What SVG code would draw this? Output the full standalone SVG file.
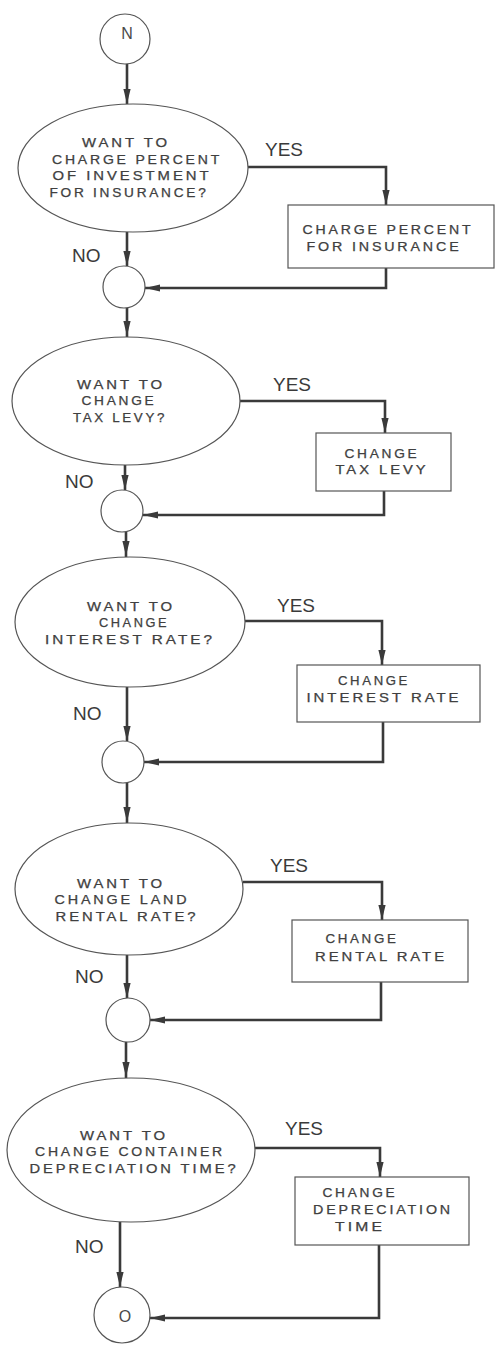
<svg xmlns="http://www.w3.org/2000/svg" xmlns:xlink="http://www.w3.org/1999/xlink" width="495" height="1346" viewBox="0 0 495 1346">
  <style>
    .bg { fill: #ffffff; }
    .shape { fill: #ffffff; stroke: #555555; stroke-width: 1.2; }
    .flow { fill: none; stroke: #3a3a3a; stroke-width: 2.6; }
    .head { fill: #3a3a3a; }
    .lbl { font-family: "Liberation Sans", Arial, sans-serif; font-size: 12px; letter-spacing: 2.4px; fill: #404040; stroke: #404040; stroke-width: 0.25; text-anchor: middle; }
    .yn { font-family: "Liberation Sans", Arial, sans-serif; font-size: 19px; fill: #3a3a3a; }
    .sym { font-family: "Liberation Sans", Arial, sans-serif; font-size: 16px; fill: #4a4a4a; text-anchor: middle; }
  </style>
  <defs>
    <!-- narrow filled arrowhead, tip at the origin, pointing down -->
    <path id="ah" d="M0,0 L-3.6,-15 L3.6,-15 Z" class="head"/>
  </defs>
  <rect class="bg" x="0" y="0" width="495" height="1346"/>

  <!-- connectors -->
  <g id="connectors">
    <!-- main spine -->
    <path class="flow" d="M127,64 V104"/>
    <path class="flow" d="M127,232 V266"/>
    <path class="flow" d="M127,308 V337"/>
    <path class="flow" d="M125,465 V490"/>
    <path class="flow" d="M126,532 V557"/>
    <path class="flow" d="M127,687 V741"/>
    <path class="flow" d="M127,783 V823"/>
    <path class="flow" d="M127,955 V998"/>
    <path class="flow" d="M126,1042 V1078"/>
    <path class="flow" d="M120,1222 V1287"/>
    <!-- YES branches -->
    <path class="flow" d="M248,167 H386 V205"/>
    <path class="flow" d="M240,401 H385 V433"/>
    <path class="flow" d="M245,621 H382 V665"/>
    <path class="flow" d="M243,882 H382 V920"/>
    <path class="flow" d="M255,1148 H380 V1177"/>
    <!-- returns to the junctions -->
    <path class="flow" d="M386,268 V288 H145"/>
    <path class="flow" d="M384,491 V515 H143"/>
    <path class="flow" d="M383,722 V762 H144"/>
    <path class="flow" d="M381,982 V1020 H150"/>
    <path class="flow" d="M379,1245 V1318 H150"/>
    <!-- arrowheads -->
    <use xlink:href="#ah" transform="translate(127,104)"/>
    <use xlink:href="#ah" transform="translate(127,266)"/>
    <use xlink:href="#ah" transform="translate(127,336)"/>
    <use xlink:href="#ah" transform="translate(125,490)"/>
    <use xlink:href="#ah" transform="translate(126,556)"/>
    <use xlink:href="#ah" transform="translate(127,741)"/>
    <use xlink:href="#ah" transform="translate(127,822)"/>
    <use xlink:href="#ah" transform="translate(127,998)"/>
    <use xlink:href="#ah" transform="translate(126,1077)"/>
    <use xlink:href="#ah" transform="translate(120,1287)"/>
    <use xlink:href="#ah" transform="translate(386,205)"/>
    <use xlink:href="#ah" transform="translate(385,433)"/>
    <use xlink:href="#ah" transform="translate(382,665)"/>
    <use xlink:href="#ah" transform="translate(382,920)"/>
    <use xlink:href="#ah" transform="translate(380,1177)"/>
    <use xlink:href="#ah" transform="translate(145,288) rotate(90)"/>
    <use xlink:href="#ah" transform="translate(143,515) rotate(90)"/>
    <use xlink:href="#ah" transform="translate(144,762) rotate(90)"/>
    <use xlink:href="#ah" transform="translate(150,1020) rotate(90)"/>
    <use xlink:href="#ah" transform="translate(150,1318) rotate(90)"/>
    <!-- branch labels -->
    <text class="yn" x="265" y="156">YES</text>
    <text class="yn" x="72" y="262">NO</text>
    <text class="yn" x="273" y="391">YES</text>
    <text class="yn" x="65" y="488">NO</text>
    <text class="yn" x="277" y="612">YES</text>
    <text class="yn" x="73" y="720">NO</text>
    <text class="yn" x="270" y="872">YES</text>
    <text class="yn" x="75" y="983">NO</text>
    <text class="yn" x="285" y="1135">YES</text>
    <text class="yn" x="75" y="1253">NO</text>
  </g>

  <!-- entry connector N -->
  <g id="start">
    <circle class="shape" cx="125" cy="39" r="25"/>
    <text class="sym" x="127" y="39">N</text>
  </g>

  <!-- insurance -->
  <g id="q-insurance">
    <ellipse class="shape" cx="133" cy="168" rx="115" ry="64"/>
    <text class="lbl" x="126" y="147" textLength="88" lengthAdjust="spacingAndGlyphs">WANT TO</text>
    <text class="lbl" x="137" y="164" textLength="170" lengthAdjust="spacingAndGlyphs">CHARGE PERCENT</text>
    <text class="lbl" x="132" y="180" textLength="159" lengthAdjust="spacingAndGlyphs">OF INVESTMENT</text>
    <text class="lbl" x="129" y="197" textLength="159" lengthAdjust="spacingAndGlyphs">FOR INSURANCE?</text>
  </g>
  <g id="do-insurance">
    <rect class="shape" x="288" y="205" width="206" height="63"/>
    <text class="lbl" x="388" y="234" textLength="171" lengthAdjust="spacingAndGlyphs">CHARGE PERCENT</text>
    <text class="lbl" x="384" y="251" textLength="155" lengthAdjust="spacingAndGlyphs">FOR INSURANCE</text>
  </g>
  <g id="j1"><circle class="shape" cx="124" cy="287" r="21"/></g>

  <!-- tax levy -->
  <g id="q-tax">
    <ellipse class="shape" cx="126" cy="401" rx="114" ry="64"/>
    <text class="lbl" x="121" y="389" textLength="88" lengthAdjust="spacingAndGlyphs">WANT TO</text>
    <text class="lbl" x="119" y="405" textLength="75" lengthAdjust="spacingAndGlyphs">CHANGE</text>
    <text class="lbl" x="120" y="422" textLength="94" lengthAdjust="spacingAndGlyphs">TAX LEVY?</text>
  </g>
  <g id="do-tax">
    <rect class="shape" x="316" y="433" width="135" height="58"/>
    <text class="lbl" x="382" y="458" textLength="75" lengthAdjust="spacingAndGlyphs">CHANGE</text>
    <text class="lbl" x="382" y="474" textLength="93" lengthAdjust="spacingAndGlyphs">TAX LEVY</text>
  </g>
  <g id="j2"><circle class="shape" cx="122" cy="511" r="21"/></g>

  <!-- interest rate -->
  <g id="q-interest">
    <ellipse class="shape" cx="130" cy="622" rx="115" ry="65"/>
    <text class="lbl" x="131" y="611" textLength="88" lengthAdjust="spacingAndGlyphs">WANT TO</text>
    <text class="lbl" x="134" y="627" textLength="70" lengthAdjust="spacingAndGlyphs">CHANGE</text>
    <text class="lbl" x="130" y="644" textLength="170" lengthAdjust="spacingAndGlyphs">INTEREST RATE?</text>
  </g>
  <g id="do-interest">
    <rect class="shape" x="297" y="665" width="183" height="57"/>
    <text class="lbl" x="374" y="685" textLength="72" lengthAdjust="spacingAndGlyphs">CHANGE</text>
    <text class="lbl" x="384" y="702" textLength="155" lengthAdjust="spacingAndGlyphs">INTEREST RATE</text>
  </g>
  <g id="j3"><circle class="shape" cx="123" cy="762" r="21"/></g>

  <!-- land rental rate -->
  <g id="q-rental">
    <ellipse class="shape" cx="129" cy="889" rx="114" ry="66"/>
    <text class="lbl" x="121" y="888" textLength="88" lengthAdjust="spacingAndGlyphs">WANT TO</text>
    <text class="lbl" x="122" y="904" textLength="135" lengthAdjust="spacingAndGlyphs">CHANGE LAND</text>
    <text class="lbl" x="127" y="921" textLength="143" lengthAdjust="spacingAndGlyphs">RENTAL RATE?</text>
  </g>
  <g id="do-rental">
    <rect class="shape" x="292" y="920" width="176" height="62"/>
    <text class="lbl" x="362" y="943" textLength="73" lengthAdjust="spacingAndGlyphs">CHANGE</text>
    <text class="lbl" x="381" y="961" textLength="132" lengthAdjust="spacingAndGlyphs">RENTAL RATE</text>
  </g>
  <g id="j4"><circle class="shape" cx="128" cy="1020" r="22"/></g>

  <!-- container depreciation -->
  <g id="q-depreciation">
    <ellipse class="shape" cx="131" cy="1150" rx="124" ry="72"/>
    <text class="lbl" x="124" y="1140" textLength="88" lengthAdjust="spacingAndGlyphs">WANT TO</text>
    <text class="lbl" x="130" y="1156" textLength="190" lengthAdjust="spacingAndGlyphs">CHANGE CONTAINER</text>
    <text class="lbl" x="134" y="1173" textLength="209" lengthAdjust="spacingAndGlyphs">DEPRECIATION TIME?</text>
  </g>
  <g id="do-depreciation">
    <rect class="shape" x="295" y="1177" width="174" height="68"/>
    <text class="lbl" x="360" y="1197" textLength="75" lengthAdjust="spacingAndGlyphs">CHANGE</text>
    <text class="lbl" x="383" y="1214" textLength="140" lengthAdjust="spacingAndGlyphs">DEPRECIATION</text>
    <text class="lbl" x="360" y="1231" textLength="50" lengthAdjust="spacingAndGlyphs">TIME</text>
  </g>

  <!-- exit connector O -->
  <g id="end">
    <circle class="shape" cx="122" cy="1315" r="28"/>
    <text class="sym" x="125" y="1322">O</text>
  </g>
</svg>
